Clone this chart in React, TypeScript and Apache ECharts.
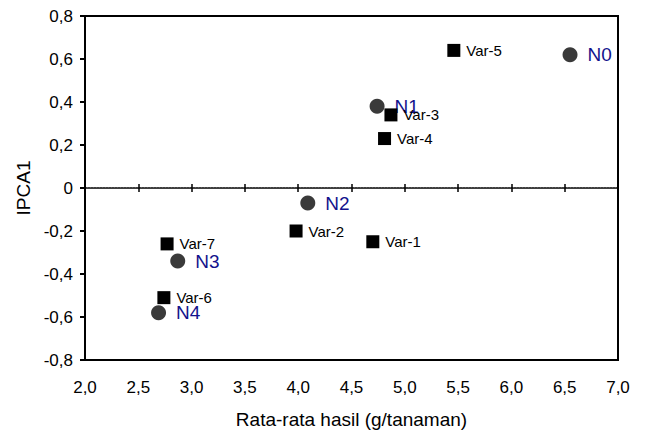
import React, { useEffect, useRef } from "react";
import * as echarts from "echarts";

const nitrogenNames = ["N0", "N1", "N2", "N3", "N4"];
const nitrogenX = [6.55, 4.74, 4.09, 2.87, 2.69];
const nitrogenY = [0.62, 0.38, -0.07, -0.34, -0.58];

const varietyNames = ["Var-1", "Var-2", "Var-3", "Var-4", "Var-5", "Var-6", "Var-7"];
const varietyX = [4.7, 3.98, 4.87, 4.81, 5.46, 2.74, 2.77];
const varietyY = [-0.25, -0.2, 0.34, 0.23, 0.64, -0.51, -0.26];

const xName = "Rata-rata hasil (g/tanaman)";
const yName = "IPCA1";

const FONT = "Liberation Sans, Arial, sans-serif";

const fmt = (v: number) => (Math.abs(v) < 1e-9 ? "0" : v.toFixed(1).replace(".", ","));

export default function App() {
  const ref = useRef<HTMLDivElement>(null);
  useEffect(() => {
    if (!ref.current) return;
    const chart = echarts.init(ref.current, undefined, { renderer: "svg" });
    const yRange = { type: "value" as const, min: -0.8, max: 0.8, interval: 0.2 };
    chart.setOption({
      animation: false,
      backgroundColor: "#fff",
      grid: {
        left: 85,
        right: 27,
        top: 16,
        bottom: 73,
        show: true,
        borderColor: "#000",
        borderWidth: 2,
        backgroundColor: "transparent",
      },
      xAxis: [
        {
          type: "value",
          min: 2,
          max: 7,
          interval: 0.5,
          position: "bottom",
          name: xName,
          nameLocation: "middle",
          nameGap: 50,
          nameTextStyle: { fontFamily: FONT, fontSize: 19, color: "#000" },
          axisLine: { show: true, onZero: false, lineStyle: { color: "#000", width: 2 } },
          axisTick: { show: false },
          axisLabel: { fontFamily: FONT, fontSize: 17, color: "#000", margin: 19, formatter: fmt },
          splitLine: { show: false },
        },
        {
          type: "value",
          min: 2,
          max: 7,
          interval: 0.5,
          position: "bottom",
          axisLine: {
            show: true,
            onZero: true,
            onZeroAxisIndex: 0,
            lineStyle: { color: "#000", width: 1.5, type: [2, 1] },
          },
          axisTick: { show: true, inside: true, length: 4, lineStyle: { color: "#000", width: 1.5 } },
          axisLabel: { show: false },
          splitLine: { show: false },
        },
        {
          type: "value",
          min: 2,
          max: 7,
          interval: 0.5,
          position: "bottom",
          axisLine: { show: false, onZero: true, onZeroAxisIndex: 1 },
          axisTick: { show: true, inside: false, length: 4, lineStyle: { color: "#000", width: 1.5 } },
          axisLabel: { show: false },
          splitLine: { show: false },
        },
      ],
      yAxis: [
        {
          ...yRange,
          name: yName,
          nameLocation: "middle",
          nameRotate: 90,
          nameGap: 52,
          nameTextStyle: { fontFamily: FONT, fontSize: 19, color: "#000" },
          axisLine: { show: true, onZero: false, lineStyle: { color: "#000", width: 2 } },
          axisTick: { show: true, inside: false, length: 5, lineStyle: { color: "#000", width: 2 } },
          axisLabel: { fontFamily: FONT, fontSize: 17, color: "#000", margin: 12, formatter: fmt },
          splitLine: { show: false },
        },
        {
          ...yRange,
          position: "right",
          axisLine: { show: false, onZero: false },
          axisTick: { show: false },
          axisLabel: { show: false },
          splitLine: { show: false },
        },
      ],
      series: [
        {
          type: "scatter",
          xAxisIndex: 0,
          yAxisIndex: 0,
          symbol: "rect",
          symbolSize: 13,
          itemStyle: { color: "#000", opacity: 1 },
          data: varietyNames.map((n, i) => ({ name: n, value: [varietyX[i], varietyY[i]] })),
          label: {
            show: true,
            position: "right",
            distance: 6,
            formatter: "{b}",
            fontFamily: FONT,
            fontSize: 15,
            color: "#000",
          },
          z: 3,
        },
        {
          type: "scatter",
          xAxisIndex: 0,
          yAxisIndex: 0,
          symbol: "circle",
          symbolSize: 15,
          itemStyle: { color: "#3a3a3a", opacity: 1 },
          data: nitrogenNames.map((n, i) => ({ name: n, value: [nitrogenX[i], nitrogenY[i]] })),
          label: {
            show: true,
            position: "right",
            distance: 10,
            formatter: "{b}",
            fontFamily: FONT,
            fontSize: 19,
            color: "#12128c",
          },
          z: 2,
        },
      ],
    });
    return () => chart.dispose();
  }, []);
  return <div ref={ref} style={{ width: 645, height: 434, position: "absolute", left: 0, top: 0 }} />;
}
